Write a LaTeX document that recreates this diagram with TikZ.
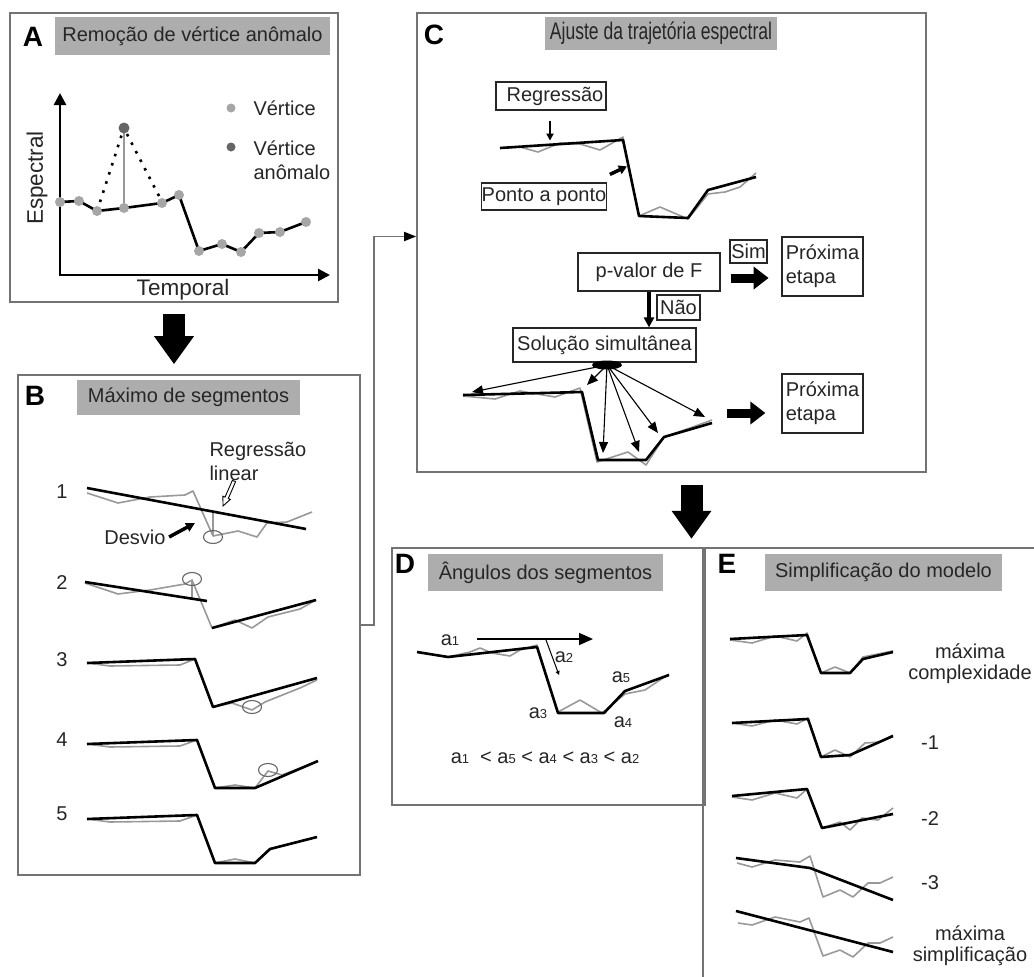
\documentclass[tikz,border=0pt]{standalone}
\usepackage{fontspec}
\setmainfont{Liberation Sans}
\newfontfamily\narrowfont[FakeStretch=0.73]{Liberation Sans}
\usetikzlibrary{positioning,arrows.meta,shapes.geometric,calc}
\newcommand\angl[1]{a{\fontsize{13}{13}\selectfont#1}}

\begin{document}
\begin{tikzpicture}[
          x=1pt, y=-1pt,
          every node/.style={font=\fontsize{20}{24}\selectfont, text=black!85},
          panel/.style={draw=black!55, line width=1.6pt, inner sep=0pt},
          ttl/.style={fill=black!32, inner sep=0pt},
          tag/.style={font=\fontsize{28}{30}\selectfont\bfseries, text=black},
          axlbl/.style={font=\fontsize{22.5}{26}\selectfont},
          lbox/.style={draw=black!85, line width=1.2pt, inner sep=0pt},
          fitline/.style={black, line width=2.6pt, line join=round},
          rawline/.style={black!40, line width=1.6pt, line join=round},
          devmark/.style={ellipse, draw=black!60, line width=1.1pt, minimum width=19pt, minimum height=13pt, inner sep=0pt},
          bigarrow/.style={line width=22pt, -{Triangle[length=28pt,width=38pt]}},
          fatarrow/.style={line width=9pt, -{Triangle[length=15pt,width=22pt]}},
          ray/.style={line width=1.1pt, -{Triangle[length=11pt,width=9pt]}},
          link/.style={draw=black!55, line width=1.6pt},
          dotline/.style={line width=2.6pt, dash pattern=on 2.6pt off 7pt}
      ]
        \useasboundingbox (0,0) rectangle (1034,977);
        \fill[white] (0,0) rectangle (1034,977);

        % A
        \node[panel, minimum width=328, minimum height=289] (pA) at (174,157.5) {};
        \node[ttl, minimum width=275, minimum height=38] (tA) at (192.5,36) {Remoção de vértice anômalo};
        \node[tag] (kA) at (33,37) {A};
        \draw[line width=2.6pt, {Triangle[length=12pt,width=12pt]}-{Triangle[length=12pt,width=12pt]}] (60,93) |- (330,275);
        \node[axlbl, rotate=90] (espec) at (37,178) {Espectral};
        \node[axlbl] (tempo) at (183,290) {Temporal};
        \draw[dotline] (100,202) -- (122,134);
        \draw[dotline] (127,134) -- (160,198);
        \draw[rawline] (124,128) -- (124,208);
        \draw[fitline] plot coordinates {(60,202) (79,201) (97,211) (124,208) (162,203) (179,195) (199,251) (222,244) (241,252) (259,233) (280,232) (306,222)};
        \foreach \p in {(60,202),(79,201),(97,211),(124,208),(162,203),(179,195),(199,251),(222,244),(241,252),(259,233),(280,232),(306,222)}
          \fill[black!35] \p circle (5);
        \fill[black!60] (124,128) circle (5.5);
        \fill[black!35] (231,108) circle (4.5);
        \node[anchor=west] (lv) at (250,108) {Vértice};
        \fill[black!60] (231,147) circle (4.5);
        \node[anchor=west, align=left] (la) at (250,160) {Vértice\\anômalo};

        % B
        \node[panel, minimum width=342, minimum height=500] (pB) at (189,625) {};
        \node[ttl, minimum width=223, minimum height=35] (tB) at (188.5,397.5) {Máximo de segmentos};
        \node[tag] (kB) at (35,396) {B};
        \draw[bigarrow] ($(pA.south)+(0,11)$) -- ($(pA.south |- pB.north)+(0,-10)$);

        \node (n1) at (62,492) {1};
        \draw[rawline] plot coordinates {(87,493) (118,503) (150,497) (185,495) (193,491) (213,536) (238,531) (257,537) (267,523) (287,522) (312,512)};
        \draw[rawline] (213,512) -- (213,536);
        \draw[fitline] (87,488) -- (306,529);
        \node[devmark] (d1) at (213,537) {};
        \node (desvio) at (135,537) {Desvio};
        \draw[line width=3.5pt, -{Triangle[length=9pt,width=9pt]}] (desvio.east) -- (195,523);
        \node[anchor=west, align=left] (rlin) at (206,461) {Regressão\\linear};
        \draw[line width=0.9pt, fill=white] (235.6,481.7) -- (228.3,498.5) -- (230.3,499.4) -- (223,506) -- (222.9,496.2) -- (225.0,497.1) -- (232.4,480.3) -- cycle;

        \node (n2) at (62,583) {2};
        \draw[rawline] plot coordinates {(85,583) (118,594) (150,590) (185,584) (192,580) (212,628) (235,620) (252,628) (268,617) (300,609) (316,600)};
        \draw[rawline] (192,580) -- (192,599);
        \draw[fitline] (85,582) -- (207,601);
        \draw[fitline] (212,628) -- (316,600);
        \node[devmark] (d2) at (192,579) {};

        \node (n3) at (62,660) {3};
        \draw[rawline] plot coordinates {(87,663) (110,666) (180,665) (195,659) (213,707) (232,703) (252,710) (265,702) (300,688) (317,680)};
        \draw[fitline] plot coordinates {(87,663) (195,659) (213,707) (317,678)};
        \node[devmark] (d3) at (252,707) {};

        \node (n4) at (62,740) {4};
        \draw[rawline] plot coordinates {(87,744) (110,747) (180,746) (197,740) (215,788) (235,785) (255,788) (268,771) (282,775) (318,761)};
        \draw[fitline] plot coordinates {(87,744) (197,740) (215,788) (255,788) (318,761)};
        \node[devmark] (d4) at (268,770) {};

        \node (n5) at (62,814) {5};
        \draw[rawline] plot coordinates {(87,819) (110,822) (180,821) (197,815) (215,863) (235,859) (255,863) (270,849) (317,837)};
        \draw[fitline] plot coordinates {(87,819) (197,815) (215,863) (255,863) (270,849) (317,837)};

        % C
        \node[panel, minimum width=509, minimum height=459] (pC) at (671.5,242.5) {};
        \node[ttl, minimum width=232, minimum height=33, font=\fontsize{24}{26}\narrowfont] (tC) at (661,33.5) {Ajuste da trajetória espectral};
        \node[tag] (kC) at (434,35) {C};
        \draw[link, -{Triangle[length=12pt,width=9pt,color=black]}] (pB.east) -- ++(13,0) |- ($(pC.west)+(0,-6)$);

        \node[lbox, minimum width=110, minimum height=28] (regr) at (551,96) {\hspace*{8pt}Regressão};
        \draw[line width=2pt, -{Triangle[length=7pt,width=7pt]}] ($(regr.south)+(-1,10)$) -- ++(0,20);
        \draw[rawline] plot coordinates {(500,148) (520,147) (538,152) (560,143) (580,144) (600,150) (623,137) (639,216) (660,207) (688,219) (708,194) (725,192) (740,187) (756,173)};
        \draw[fitline] plot coordinates {(500,148) (623,140) (639,216) (688,218) (708,190) (756,177)};
        \node[lbox, minimum width=124, minimum height=27] (pap) at (544,196.5) {Ponto a ponto};
        \draw[line width=3.5pt, -{Triangle[length=8pt,width=9pt]}] ($(pap.north east)+(3,-8)$) -- ++(17,-8);

        \node[lbox, minimum width=142, minimum height=38] (pval) at (649,272) {p-valor de F};
        \node[lbox, minimum width=37, minimum height=23] (sim) at (748.5,251.5) {Sim};
        \node[lbox, minimum width=81, minimum height=59, align=left] (prox1) at (822.5,266.5) {Próxima\\etapa};
        \draw[fatarrow] ($(pval.east)+(10,6)$) -- ++(38,0);
        \node[lbox, minimum width=183, minimum height=34] (sol) at (604.5,345) {Solução simultânea};
        \draw[line width=3.5pt, -{Triangle[length=10pt,width=10pt]}] (pval.south) -- (pval.south |- sol.north);
        \node[lbox, minimum width=43, minimum height=25] (nao) at (678.5,307.5) {Não};

        \draw[rawline] plot coordinates {(463,396) (495,399) (520,391) (555,397) (580,388) (597,462) (628,452) (646,465) (664,437) (690,428) (712,420)};
        \draw[fitline] plot coordinates {(463,395) (582,392) (598,460) (646,460) (664,437) (712,423)};
        \node[ellipse, fill=black, minimum width=30, minimum height=9, inner sep=0pt] (hub) at (607,365) {};
        \foreach \q in {(472,392),(587,385),(603,453),(639,452),(658,433),(705,417)}
          \draw[ray] (hub.center) -- \q;
        \node[lbox, minimum width=81, minimum height=59, align=left] (prox2) at (822.5,403.5) {Próxima\\etapa};
        \draw[fatarrow] ($(prox2.west)+(-54,9.5)$) -- ++(38,0);

        \draw[bigarrow] ($(pC.south)+(20,12)$) -- ($(pC.south)+(20,66)$);

        % D
        \node[panel, minimum width=313, minimum height=257] (pD) at (548.5,676.5) {};
        \node[ttl, minimum width=235, minimum height=37] (tD) at (545.5,572.5) {Ângulos dos segmentos};
        \node[tag] (kD) at (405,564) {D};
        \draw[rawline] plot coordinates {(417,652) (448,657) (470,652) (480,648) (492,653) (510,656) (520,650) (537,645) (558,712) (580,700) (602,713) (625,694) (645,690) (669,674)};
        \draw[fitline] plot coordinates {(417,652) (448,657) (537,647) (558,713) (604,713) (625,691) (669,675)};
        \draw[line width=1.6pt, -{Triangle[length=14pt,width=12pt]}] (477,639) -- (593,639);
        \draw[line width=1pt, -{Triangle[length=4pt,width=4pt]}] (546,640) -- (559,675);
        \node (a1) at (450,640) {\angl1};
        \node (a2) at (564,657) {\angl2};
        \node (a3) at (538,713) {\angl3};
        \node (a4) at (623,722) {\angl4};
        \node (a5) at (621,677) {\angl5};
        \node (ord) at (545,758) {\angl1\ \ < \angl5 < \angl4 < \angl3 < \angl2};

        % E
        \draw[link] (703,977) |- (1034,548);
        \node[ttl, minimum width=237, minimum height=37] (tE) at (883.5,572.5) {Simplificação do modelo};
        \node[tag] (kE) at (727,564) {E};

        \draw[rawline] plot coordinates {(730,640) (752,643) (775,636) (797,641) (807,633) (821,673) (835,667) (850,673) (863,657) (893,651)};
        \draw[fitline] plot coordinates {(730,639) (807,635) (821,673) (850,673) (863,659) (893,652)};
        \node[align=center, font=\fontsize{20}{21}\selectfont] (e1) at (970,664) {máxima\\complexidade};

        \draw[rawline] plot coordinates {(732,723) (752,726) (775,720) (797,724) (808,718) (821,757) (835,750) (850,757) (865,743) (880,742) (893,735)};
        \draw[fitline] plot coordinates {(732,723) (808,719) (821,757) (850,755) (893,736)};
        \node (e2) at (930,743) {-1};

        \draw[rawline] plot coordinates {(732,797) (752,800) (775,793) (797,798) (807,789) (822,828) (840,822) (850,830) (862,818) (878,820) (893,808)};
        \draw[fitline] plot coordinates {(732,796) (807,789) (822,828) (893,814)};
        \node (e3) at (930,819) {-2};

        \draw[rawline] plot coordinates {(737,863) (752,867) (775,860) (800,862) (810,856) (823,897) (840,890) (853,897) (868,883) (880,883) (893,877)};
        \draw[fitline] plot coordinates {(736,858) (810,868) (893,900)};
        \node (e4) at (930,883) {-3};

        \draw[rawline] plot coordinates {(738,923) (752,925) (775,917) (800,922) (809,918) (823,956) (840,950) (853,957) (868,943) (880,943) (893,937)};
        \draw[fitline] (736,911) -- (893,952);
        \node[align=center, font=\fontsize{20}{21}\selectfont] (e5) at (970,946) {máxima\\simplificação};
      \end{tikzpicture}
\end{document}
